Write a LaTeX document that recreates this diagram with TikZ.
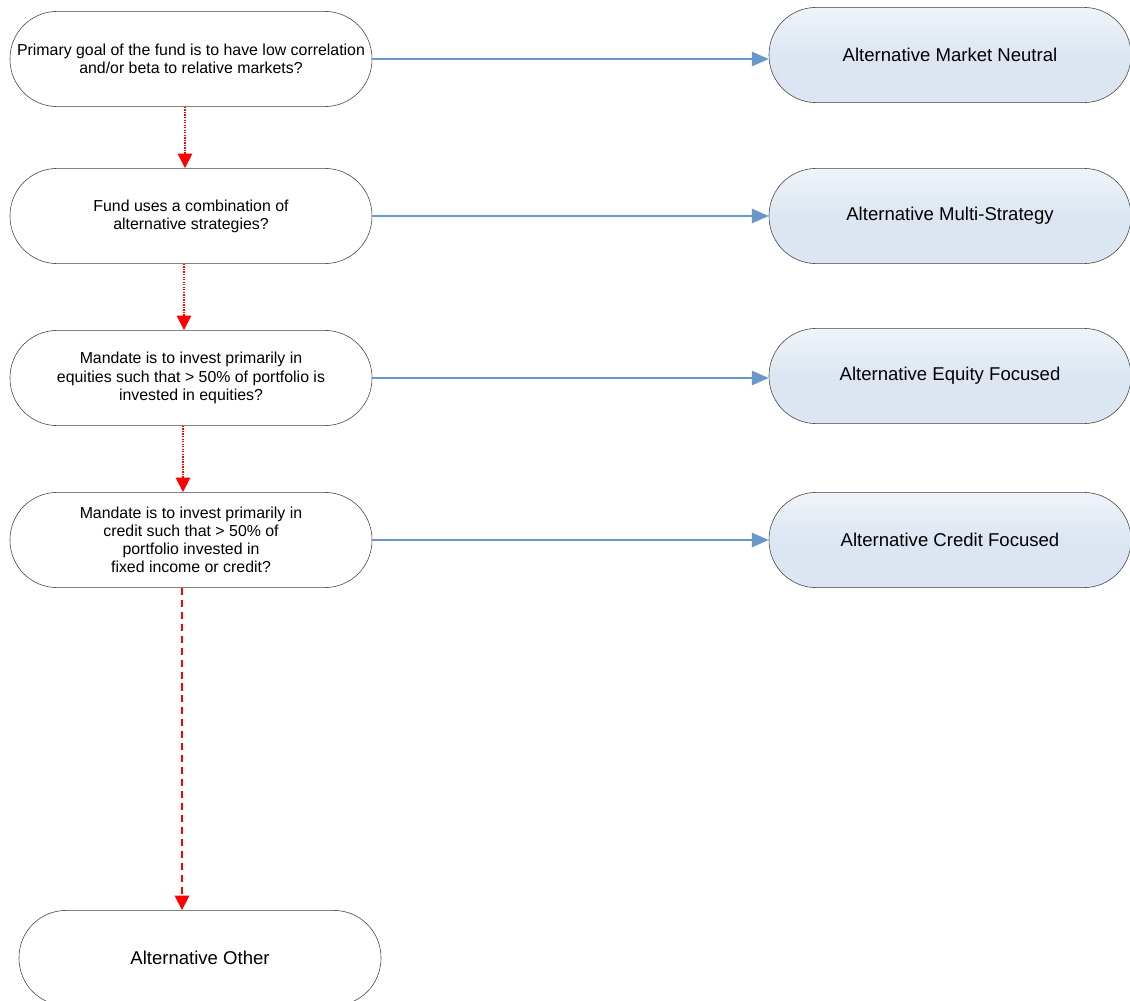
\documentclass[tikz,border=0pt]{standalone}
\usepackage{fontspec}
\setmainfont{Liberation Sans}
\usetikzlibrary{arrows.meta,positioning}
\definecolor{flowblue}{RGB}{104,152,202}
\definecolor{boxblue}{RGB}{220,230,242}
\tikzstyle{question}=[draw=black!75, rectangle, rounded corners=1.18cm, minimum width=9.05cm, minimum height=2.38cm, inner sep=0pt, align=center, font=\fontsize{11.3}{12.9}\selectfont]
\tikzstyle{answer}=[question, font=\fontsize{13.2}{15}\selectfont]
\tikzstyle{outcome}=[answer, top color=boxblue!45, bottom color=boxblue, middle color=boxblue]
\tikzset{%
    toright/.style={draw=flowblue, line width=0.9pt, -{Triangle[length=0.42cm,width=0.36cm]}},
    tonext/.style={draw=red, line width=0.8pt, dash pattern=on 0.9pt off 0.9pt, -{Triangle[length=0.36cm,width=0.36cm]}},
    tolast/.style={tonext, dash pattern=on 5pt off 3.5pt},
  }
\begin{document}
\begin{tikzpicture}[node distance=4.05cm]
    \useasboundingbox (0,0) rectangle (28.25,-25.025);
    \node (q1) [question] at (4.775,-1.475) {Primary goal of the fund is to have low correlation\\and/or beta to relative markets?};
    \node (q2) [question, below of=q1, node distance=3.925cm] {Fund uses a combination of\\alternative strategies?};
    \node (q3) [question, below of=q2] {Mandate is to invest primarily in\\equities such that > 50\% of portfolio is\\invested in equities?};
    \node (q4) [question, below of=q3] {Mandate is to invest primarily in\\credit such that > 50\% of\\portfolio invested in\\fixed income or credit?};
    \node (other) [answer, below of=q4, node distance=10.45cm, xshift=0.225cm] {Alternative Other};
    %
    \node (r1) [outcome, right of=q1, node distance=18.975cm, yshift=0.1cm] {Alternative Market Neutral};
    \node (r2) [outcome, right of=q2, node distance=18.975cm] {Alternative Multi-Strategy};
    \node (r3) [outcome, right of=q3, node distance=18.975cm, yshift=0.05cm] {Alternative Equity Focused};
    \node (r4) [outcome, right of=q4, node distance=18.975cm] {Alternative Credit Focused};

    \draw [toright] (q1.east) -- (q1.east -| r1.west);
    \draw [toright] (q2) -- (r2);
    \draw [toright] (q3.east) -- (q3.east -| r3.west);
    \draw [toright] (q4) -- (r4);
    \draw [tonext] ([xshift=-0.15cm]q1.south) -- ([xshift=-0.15cm]q2.north);
    \draw [tonext] ([xshift=-0.175cm]q2.south) -- ([xshift=-0.175cm]q3.north);
    \draw [tonext] ([xshift=-0.2cm]q3.south) -- ([xshift=-0.2cm]q4.north);
    \draw [tolast] ([xshift=-0.225cm]q4.south) -- ([xshift=-0.225cm]q4.south |- other.north);
\end{tikzpicture}
\end{document}
